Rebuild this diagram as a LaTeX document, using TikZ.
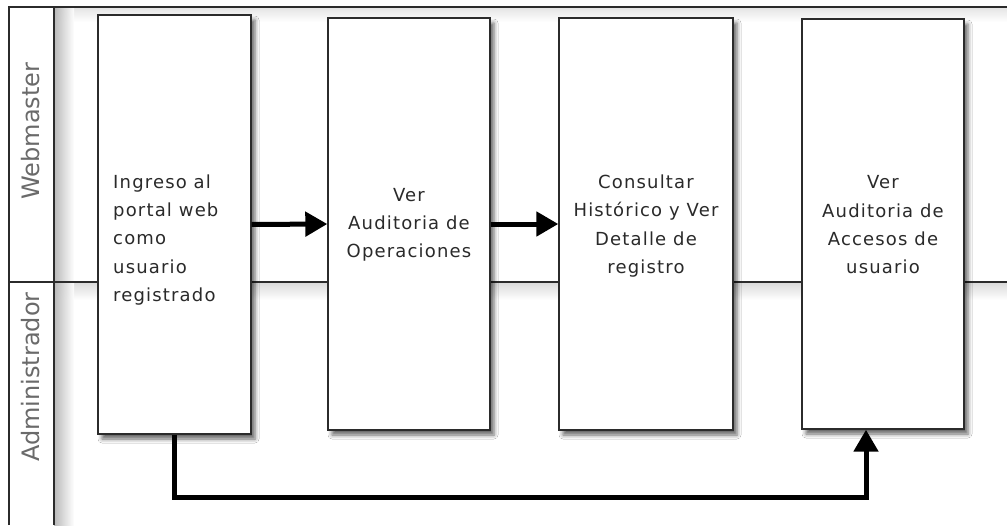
\documentclass[tikz,border=0pt]{standalone}
\usepackage{fontspec}
\setmainfont{DejaVu Sans}
\newfontfamily\boxfont[LetterSpace=6.5]{DejaVu Sans}
\usetikzlibrary{arrows.meta,shadows.blur}
\definecolor{framec}{HTML}{2B2B2B}
\definecolor{lblc}{HTML}{6A6A6A}
\definecolor{txtc}{HTML}{2A2A2A}
\tikzset{
  laneline/.style={draw=framec, line width=1.4pt},
  proc/.style={draw=framec, line width=1.4pt, fill=white, rectangle, inner sep=0pt,
    blur shadow={shadow xshift=4pt, shadow yshift=-5pt, shadow blur radius=4pt, shadow opacity=60}},
  ptext/.style={font=\boxfont\fontsize{18}{28.3}\selectfont, text=txtc, align=center, inner sep=0pt},
  lanelabel/.style={font=\fontsize{24}{28}\selectfont, text=lblc, rotate=90, inner sep=0pt},
  flow/.style={line width=5pt, -{Triangle[length=22pt,width=24pt]}, line join=miter}
}
\begin{document}
\begin{tikzpicture}[x=1pt,y=-1pt]
\useasboundingbox (0,0) rectangle (1007,525);
\fill[white] (0,0) rectangle (1007,525);
% frame shadows
\shade[top color=black!10, bottom color=white] (54,8) rectangle (1007,22);
\shade[top color=black!14, bottom color=white] (54,283) rectangle (1007,300);
\shade[left color=black!30, right color=white, opacity=0.9] (54,8) rectangle (74,525);
% frame
\draw[laneline] (9,525) -- (9,7) -- (1007,7);
\draw[laneline] (54,7) -- (54,525);
\draw[laneline] (9,282) -- (1007,282);
% lane labels
\node[lanelabel] (l1) at (31,131) {Webmaster};
\node[lanelabel] (l2) at (31,377) {Administrador};
% boxes
\node[proc, minimum width=153pt, minimum height=419pt] (b1) at (174.5,224.5) {};
\node[proc, minimum width=162pt, minimum height=412pt] (b2) at (409,224) {};
\node[proc, minimum width=174pt, minimum height=412pt] (b3) at (646,224) {};
\node[proc, minimum width=162pt, minimum height=410pt] (b4) at (883,224) {};
% texts
\node[ptext, align=left, anchor=west] (t1) at (113,240) {Ingreso al\\portal web\\como\\usuario\\registrado};
\node[ptext] (t2) at (409,225) {Ver\\Auditoria de\\Operaciones};
\node[ptext] (t3) at (646,226) {Consultar\\Histórico y Ver\\Detalle de\\registro};
\node[ptext] (t4) at (883,225) {Ver\\Auditoria de\\Accesos de\\usuario};
% connectors
\draw[flow] (b1.east) -- (b2.west);
\draw[flow] (b2.east) -- (b3.west);
\coordinate (c3) at (866,497);
\draw[flow] (b1.south) |- (c3) -- (c3 |- b4.south);
\end{tikzpicture}
\end{document}
